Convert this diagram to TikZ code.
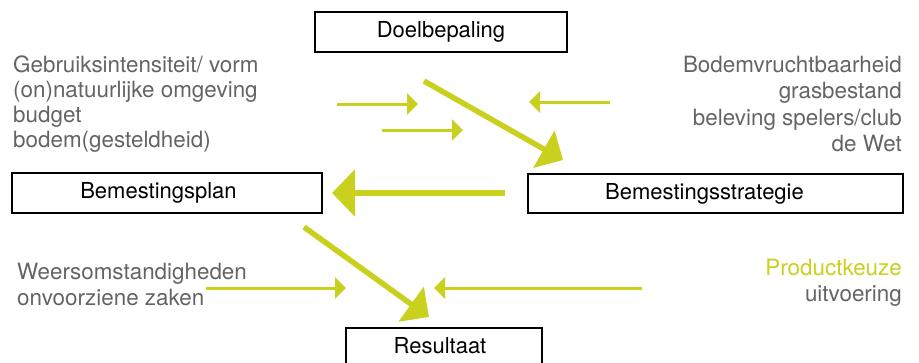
\documentclass[tikz,border=0pt]{standalone}
\usepackage{fontspec}
\setmainfont{TeX Gyre Heros}
\usetikzlibrary{arrows.meta}
\definecolor{lime}{RGB}{201,208,30}
\definecolor{txtgray}{RGB}{100,100,100}
\tikzset{
  x=1pt, y=-1pt,
  box/.style={draw=black, line width=1.3pt, inner sep=0pt, font=\fontsize{22}{25}\selectfont},
  gtext/.style={inner sep=0pt, text=txtgray, font=\fontsize{22.4}{25}\selectfont},
  ltext/.style={inner sep=0pt, text=lime, font=\fontsize{22.4}{25}\selectfont},
  bigarrow/.style={draw=lime, line width=5.5pt, -{Triangle[length=22pt,width=42pt]}},
  smallarrow/.style={draw=lime, line width=3pt, -{Triangle[length=11pt,width=21pt]}},
}
\begin{document}
\begin{tikzpicture}
\useasboundingbox (0,0) rectangle (919,362);
% boxes
\node[box, minimum width=252pt, minimum height=40pt] (doel) at (441,32) {Doelbepaling};
\node[box, minimum width=310pt, minimum height=40pt] (plan) at (167,193) {\hspace*{-17pt}Bemestingsplan};
\node[box, minimum width=375pt, minimum height=39pt] (strat) at (715.5,193.5) {\hspace*{-22pt}Bemestingsstrategie};
\node[box, minimum width=196pt, minimum height=36pt] (res) at (444,346) {\hspace*{-8pt}Resultaat};
% left texts
\node[gtext, anchor=base west] (l1) at (13,72) {Gebruiksintensiteit/ vorm};
\node[gtext, anchor=base west] (l2) at (13,97) {(on)natuurlijke omgeving};
\node[gtext, anchor=base west] (l3) at (13,122) {budget};
\node[gtext, anchor=base west] (l4) at (13,147) {bodem(gesteldheid)};
% right texts
\node[gtext, anchor=base east] (r1) at (902,72) {Bodemvruchtbaarheid};
\node[gtext, anchor=base east] (r2) at (902,98) {grasbestand};
\node[gtext, anchor=base east] (r3) at (902,125) {beleving spelers/club};
\node[gtext, anchor=base east] (r4) at (902,151) {de Wet};
% bottom texts
\node[gtext, anchor=base west] (b1) at (17,279) {Weersomstandigheden};
\node[gtext, anchor=base west] (b2) at (17,305) {onvoorziene zaken};
\node[ltext, anchor=base east] (p1) at (902,275) {Productkeuze};
\node[gtext, anchor=base east] (p2) at (902,301) {uitvoering};
% arrow coordinates
\coordinate (d1s) at (424,81);  \coordinate (d1e) at (563,160);
\coordinate (hs) at (505,193);  \coordinate (he) at (332,193);
\coordinate (d2s) at (304,227); \coordinate (d2e) at (429,317);
\coordinate (a1s) at (337,104); \coordinate (a1e) at (418,104);
\coordinate (a2s) at (382,130); \coordinate (a2e) at (463,130);
\coordinate (a3s) at (610,102); \coordinate (a3e) at (529,102);
\coordinate (a4s) at (206,288); \coordinate (a4e) at (346,288);
\coordinate (a5s) at (642,288); \coordinate (a5e) at (434,288);
% arrows
\draw[bigarrow] (d1s) -- (d1e);
\draw[bigarrow, line width=6pt, -{Triangle[length=23pt,width=46pt]}] (hs) -- (he);
\draw[bigarrow] (d2s) -- (d2e);
\draw[smallarrow] (a1s) -- (a1e);
\draw[smallarrow] (a2s) -- (a2e);
\draw[smallarrow] (a3s) -- (a3e);
\draw[smallarrow] (a4s) -- (a4e);
\draw[smallarrow] (a5s) -- (a5e);
\end{tikzpicture}
\end{document}
